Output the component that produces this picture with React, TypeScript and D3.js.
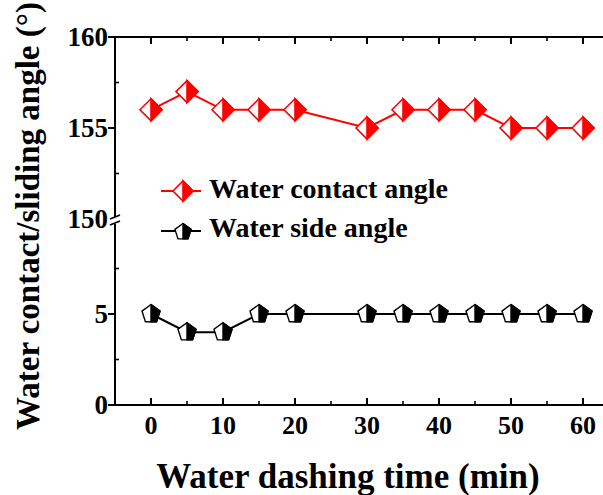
import React from 'react';
import * as d3 from 'd3';

// water dashing time (min)
const times = [0, 5, 10, 15, 20, 30, 35, 40, 45, 50, 55, 60];
const contactAngle = [156, 157, 156, 156, 156, 155, 156, 156, 156, 155, 155, 155];
const slideAngle = [5, 4, 4, 5, 5, 5, 5, 5, 5, 5, 5, 5];

const xMajor = [0, 10, 20, 30, 40, 50, 60];
const xMinor = [5, 15, 25, 35, 45, 55];
const topMajor = [160, 155, 150];
const topMinor = [157.5, 152.5];
const botMajor = [5, 0];
const botMinor = [7.5, 2.5];

const FONT = '"Liberation Serif", "Times New Roman", serif';
const RED = '#ff0000';

const W = 603;
const H = 495;

const x = d3.scaleLinear().domain([-5, 65]).range([115, 619]);
const yTop = d3.scaleLinear().domain([150, 160]).range([219, 37]);
const yBot = d3.scaleLinear().domain([0, 10]).range([405, 223]);

const diamond = (cx: number, cy: number, r: number) => {
  const full = `M${cx - r},${cy}L${cx},${cy - r}L${cx + r},${cy}L${cx},${cy + r}Z`;
  const half = `M${cx},${cy - r}L${cx + r},${cy}L${cx},${cy + r}Z`;
  return (
    <g>
      <path d={full} fill="#fff" stroke={RED} strokeWidth={1.6} />
      <path d={half} fill={RED} stroke={RED} strokeWidth={1.6} />
    </g>
  );
};

const pentagon = (cx: number, cy: number, r: number) => {
  const pts = d3.range(5).map((i) => {
    const a = ((-90 + i * 72) * Math.PI) / 180;
    return [cx + r * Math.cos(a), cy + r * Math.sin(a)];
  });
  const full = 'M' + pts.map((p) => p.join(',')).join('L') + 'Z';
  const half = `M${pts[0][0]},${pts[0][1]}L${pts[1][0]},${pts[1][1]}L${pts[2][0]},${pts[2][1]}L${cx},${pts[2][1]}Z`;
  return (
    <g>
      <path d={full} fill="#fff" stroke="#000" strokeWidth={1.4} />
      <path d={half} fill="#000" stroke="#000" strokeWidth={1.4} strokeLinejoin="round" />
    </g>
  );
};

export default function App() {
  const redLine = d3
    .line<number>()
    .x((_, i) => x(times[i]))
    .y((d) => yTop(d));
  const blackLine = d3
    .line<number>()
    .x((_, i) => x(times[i]))
    .y((d) => yBot(d));

  const axisX = x(-5);
  const breakY = (yTop(150) + yBot(10)) / 2;

  return (
    <svg
      width={W}
      height={H}
      style={{ position: 'absolute', left: 0, top: 0, background: '#fff' }}
      fontFamily={FONT}
      fontWeight="bold"
    >
      {/* frame */}
      <line x1={axisX} x2={W} y1={yTop(160)} y2={yTop(160)} stroke="#000" strokeWidth={2} />
      <line x1={axisX} x2={W} y1={yBot(0)} y2={yBot(0)} stroke="#000" strokeWidth={2} />
      <line x1={axisX} x2={axisX} y1={yTop(160) - 1} y2={breakY - 4} stroke="#000" strokeWidth={2} />
      <line x1={axisX} x2={axisX} y1={breakY + 3} y2={yBot(0) + 1} stroke="#000" strokeWidth={2} />
      {/* break marks */}
      {[-4, 2].map((d) => (
        <line key={d} x1={axisX - 5} x2={axisX + 5} y1={breakY + d + 2} y2={breakY + d - 2} stroke="#000" strokeWidth={1.8} />
      ))}

      {/* x ticks */}
      {xMajor.map((t) => (
        <g key={'xm' + t}>
          <line x1={x(t)} x2={x(t)} y1={yBot(0)} y2={yBot(0) - 7} stroke="#000" strokeWidth={2} />
          <line x1={x(t)} x2={x(t)} y1={yTop(160)} y2={yTop(160) + 7} stroke="#000" strokeWidth={2} />
          <text x={x(t)} y={434} textAnchor="middle" fontSize={26}>
            {t}
          </text>
        </g>
      ))}
      {xMinor.map((t) => (
        <g key={'xn' + t}>
          <line x1={x(t)} x2={x(t)} y1={yBot(0)} y2={yBot(0) - 4} stroke="#000" strokeWidth={1.6} />
          <line x1={x(t)} x2={x(t)} y1={yTop(160)} y2={yTop(160) + 4} stroke="#000" strokeWidth={1.6} />
        </g>
      ))}

      {/* y ticks */}
      {topMajor.map((t) => (
        <g key={'ytm' + t}>
          {t !== 150 && <line x1={axisX - 7} x2={axisX} y1={yTop(t)} y2={yTop(t)} stroke="#000" strokeWidth={2} />}
          <text x={108} y={yTop(t) + 9} textAnchor="end" fontSize={27}>
            {t}
          </text>
        </g>
      ))}
      {botMajor.map((t) => (
        <g key={'ybm' + t}>
          <line x1={axisX - 7} x2={axisX} y1={yBot(t)} y2={yBot(t)} stroke="#000" strokeWidth={2} />
          <text x={108} y={yBot(t) + 9} textAnchor="end" fontSize={27}>
            {t}
          </text>
        </g>
      ))}
      {topMinor.map((t) => (
        <line key={'ytn' + t} x1={axisX} x2={axisX + 4} y1={yTop(t)} y2={yTop(t)} stroke="#000" strokeWidth={1.6} />
      ))}
      {botMinor.map((t) => (
        <line key={'ybn' + t} x1={axisX} x2={axisX + 4} y1={yBot(t)} y2={yBot(t)} stroke="#000" strokeWidth={1.6} />
      ))}

      {/* series */}
      <path d={redLine(contactAngle) ?? ''} fill="none" stroke={RED} strokeWidth={2} />
      <path d={blackLine(slideAngle) ?? ''} fill="none" stroke="#000" strokeWidth={2} />
      {contactAngle.map((v, i) => (
        <g key={'r' + i}>{diamond(x(times[i]), yTop(v), 11)}</g>
      ))}
      {slideAngle.map((v, i) => (
        <g key={'b' + i}>{pentagon(x(times[i]), yBot(v), 9.5)}</g>
      ))}

      {/* legend */}
      <line x1={161} x2={201} y1={191} y2={191} stroke={RED} strokeWidth={2} />
      {diamond(183, 191, 10)}
      <text x={209} y={198} fontSize={28}>
        Water contact angle
      </text>
      <line x1={161} x2={201} y1={231} y2={231} stroke="#000" strokeWidth={2} />
      {pentagon(183, 232, 8.5)}
      <text x={209} y={237} fontSize={28}>
        Water side angle
      </text>

      {/* axis titles */}
      <text x={348} y={488} textAnchor="middle" fontSize={35}>
        Water dashing time (min)
      </text>
      <text transform={`translate(39,216) rotate(-90)`} textAnchor="middle" fontSize={33}>
        Water contact/sliding angle (°)
      </text>
    </svg>
  );
}
